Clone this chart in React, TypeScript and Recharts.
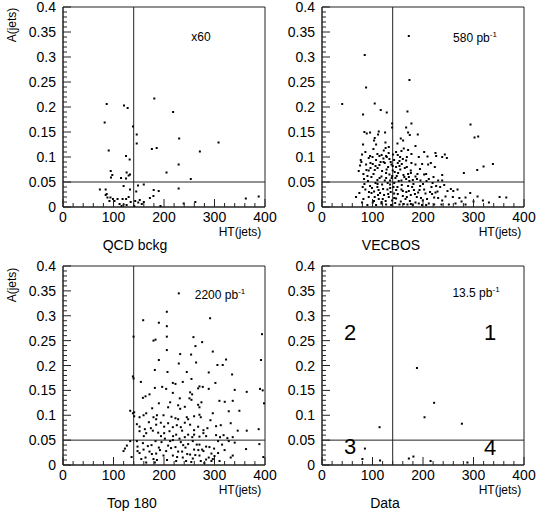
import { ScatterChart, Scatter, XAxis, YAxis, ReferenceLine, ReferenceArea } from 'recharts';

// [HT(jets), A(jets)] pairs
const qcdPoints: number[][] = [
  [86.5, 0.206], [120.8, 0.203], [128, 0.198], [82.5, 0.169], [138.6, 0.161], [180.8, 0.217], [218, 0.19],
  [146, 0.145], [146, 0.127], [230, 0.137], [308, 0.129], [90.5, 0.113], [176, 0.116], [185.5, 0.118],
  [271, 0.111], [124.8, 0.102], [132, 0.095], [229, 0.085], [94.5, 0.072], [97.6, 0.064], [95, 0.059],
  [114.9, 0.058], [126, 0.069], [130, 0.063], [132.7, 0.065], [124.8, 0.057], [205, 0.069], [253, 0.056],
  [73, 0.035], [84.5, 0.035], [120, 0.042], [132.7, 0.035], [148.5, 0.043], [160, 0.045], [145, 0.031],
  [179.6, 0.034], [189.5, 0.032], [229, 0.037], [84.5, 0.024], [86.5, 0.026], [88, 0.019], [94, 0.019],
  [99, 0.016], [108, 0.016], [118, 0.016], [125, 0.016], [92, 0.012], [102, 0.012], [112, 0.006],
  [120, 0.005], [126, 0.004], [143, 0.012], [152, 0.014], [160, 0.01], [172, 0.018], [179, 0.022],
  [156, 0.006], [149, 0.009], [193, 0.002], [239, 0.007], [262, 0.01], [362, 0.017], [387.5, 0.021],
  [130, 0.02], [134, 0.01], [141, 0.002], [116, 0.002],
];

const vecbosPoints: number[][] = [
  [171.9, 0.342], [84.6, 0.304], [173.2, 0.254], [87.3, 0.239], [40, 0.206], [104.4, 0.207], [81.3, 0.185],
  [116.3, 0.194], [128.2, 0.189], [169.2, 0.191], [177.1, 0.167], [138.8, 0.167], [138.8, 0.159], [166.6, 0.159],
  [294.1, 0.165],
  [83.9, 0.15], [88.6, 0.147], [95.2, 0.149], [112.4, 0.151], [111, 0.145], [124.9, 0.149], [104.4, 0.138],
  [103.1, 0.133], [156, 0.137], [160.6, 0.133], [170.5, 0.149], [173.8, 0.144], [189.7, 0.145], [302.1, 0.139],
  [309.3, 0.141], [81.3, 0.125], [107.1, 0.125], [125.6, 0.129], [149.4, 0.127], [132.2, 0.12], [161.9, 0.117],
  [185.1, 0.122], [101.8, 0.116], [122.3, 0.113], [85.9, 0.11], [109.7, 0.106], [146.7, 0.11], [157.3, 0.112],
  [170.5, 0.114], [177.1, 0.106], [191.7, 0.1], [79.3, 0.105], [95.2, 0.102], [113.7, 0.102], [126.9, 0.102],
  [140.8, 0.105], [154.7, 0.1], [202.3, 0.11], [224.7, 0.108], [208.9, 0.101], [226.1, 0.102], [238, 0.1],
  [76.7, 0.094], [92.5, 0.098], [107.1, 0.094], [121.6, 0.097], [128.2, 0.1], [133.5, 0.096], [142.8, 0.094],
  [153.4, 0.092], [160, 0.096], [166.6, 0.093], [177.1, 0.088], [185.1, 0.085], [198.3, 0.086], [210.2, 0.085],
  [223.4, 0.08], [215.5, 0.088], [243.2, 0.105], [247.2, 0.098], [75.4, 0.083], [87.3, 0.085], [100.5, 0.086],
  [113.7, 0.084], [124.3, 0.088], [130.9, 0.08], [137.5, 0.085], [146.7, 0.08], [153.4, 0.082], [167.9, 0.08],
  [175.8, 0.073], [189, 0.066], [202.3, 0.065], [206.2, 0.066], [185.1, 0.061], [220.8, 0.06], [230, 0.053],
  [238, 0.053], [72.7, 0.072], [82, 0.066], [92.5, 0.073], [104.4, 0.074], [119, 0.072], [126.9, 0.068],
  [133.5, 0.065], [140.1, 0.073], [150.7, 0.068], [161.3, 0.064], [170.5, 0.066], [83.3, 0.056], [97.8, 0.06],
  [109.7, 0.054], [117.7, 0.061], [124.3, 0.053], [134.8, 0.053], [145.4, 0.058], [157.3, 0.053], [166.6, 0.056],
  [179.8, 0.054], [195, 0.053], [211.5, 0.056], [238, 0.064], [280.9, 0.068], [307.4, 0.074], [319.9, 0.081],
  [338.4, 0.086], [78, 0.09], [96, 0.088], [110, 0.078], [122, 0.09], [128, 0.075], [136, 0.09], [144, 0.07],
  [150, 0.088], [164, 0.078], [172, 0.06], [90, 0.062], [102, 0.066], [114, 0.058], [138, 0.058], [155, 0.075],
  [168, 0.1], [118, 0.104], [88, 0.074], [132, 0.108], [148, 0.062],
  [96, 0.078], [106, 0.082], [116, 0.09], [140, 0.082], [158, 0.086], [176, 0.068], [194, 0.076], [100, 0.1],
  [126, 0.118], [150, 0.104],
  [67.4, 0.02], [74, 0.028], [80.6, 0.04], [85.9, 0.035], [92.5, 0.02], [95.2, 0.042], [103.1, 0.031],
  [109.7, 0.04], [112.4, 0.016], [119, 0.045], [122.9, 0.024], [129.6, 0.035], [134.8, 0.045], [138.8, 0.013],
  [142.8, 0.027], [149.4, 0.04], [153.4, 0.005], [160, 0.032], [165.3, 0.016], [170.5, 0.042], [175.8, 0.024],
  [178.5, 0.04], [185.1, 0.009], [190.4, 0.029], [194.3, 0.042], [199.6, 0.013], [204.9, 0.027], [211.5, 0.007],
  [216.8, 0.04], [222.1, 0.019], [228.7, 0.031], [234, 0.04], [238, 0.013], [248.5, 0.032], [255.1, 0.036],
  [259.1, 0.02], [268.4, 0.035], [276.3, 0.011], [284.2, 0.019], [293.5, 0.028], [300.1, 0.011], [308, 0.021],
  [318.6, 0.013], [330.5, 0.009], [351.7, 0.02], [364.9, 0.019], [79.3, 0.009], [89.9, 0.004], [100.5, 0.009],
  [107.1, 0.004], [117.7, 0.007], [126.9, 0.005], [132.2, 0.02], [146.7, 0.017], [156, 0.011], [169.2, 0.005],
  [179.8, 0.004], [191.7, 0.007], [206.2, 0.004], [222.1, 0.005], [236.6, 0.005], [251.2, 0.005], [82, 0.016],
  [104.4, 0.02], [120.3, 0.016], [141.5, 0.04], [157.3, 0.035], [171.9, 0.032], [187.7, 0.02], [202.3, 0.035],
  [224.7, 0.029], [244.6, 0.021], [264.4, 0.007], [284.2, 0.005], [98, 0.028], [112, 0.034], [126, 0.012],
  [136, 0.03], [145, 0.008], [160, 0.022], [174, 0.012], [182, 0.034], [196, 0.018], [110, 0.046], [130, 0.048],
  [150, 0.026],
  [84, 0.046], [91, 0.052], [99, 0.038], [106, 0.048], [115, 0.028], [121, 0.036], [127, 0.058], [135, 0.038],
  [139, 0.062], [143, 0.048], [147, 0.034], [152, 0.052], [158, 0.044], [163, 0.06], [167, 0.03], [173, 0.052],
  [181, 0.046], [188, 0.056], [193, 0.034], [200, 0.046], [207, 0.052], [214, 0.03], [219, 0.048], [226, 0.042],
  [93, 0.03], [103, 0.012], [111, 0.024], [118, 0.01], [131, 0.026], [137, 0.004], [143, 0.018], [162, 0.006],
  [168, 0.02], [176, 0.006], [184, 0.026], [198, 0.004], [208, 0.016], [218, 0.026], [230, 0.018], [242, 0.044],
  [260, 0.032], [272, 0.018],
];

const topPoints: number[][] = [
  [229.3, 0.345], [205.6, 0.308], [291.3, 0.295], [158.8, 0.291], [189.8, 0.286], [205.6, 0.279], [139.7, 0.258],
  [394.1, 0.263], [183.2, 0.252], [179.2, 0.25], [205.6, 0.258], [258.3, 0.257], [275.5, 0.247], [262.3, 0.239],
  [232, 0.223], [253.7, 0.222], [205.6, 0.231], [296.6, 0.228], [322.9, 0.212], [392.1, 0.211], [189.8, 0.211],
  [229.3, 0.204], [263.6, 0.206], [305.8, 0.201], [316.3, 0.201], [206.9, 0.187], [181.9, 0.191], [245.1, 0.187],
  [288.6, 0.186], [138.4, 0.178], [139.7, 0.174], [334.8, 0.182], [254.4, 0.173], [154.2, 0.167], [217.5, 0.165],
  [222.7, 0.163], [237.2, 0.167], [301.8, 0.165], [270.2, 0.158], [276.8, 0.157], [288.6, 0.153], [181.9, 0.155],
  [204.3, 0.153], [196.4, 0.157], [251.7, 0.146], [255.7, 0.142], [267.6, 0.154], [363.8, 0.147], [340, 0.151],
  [390.1, 0.153], [395.4, 0.15], [163.4, 0.138], [158.2, 0.135], [171.3, 0.142], [217.5, 0.145], [231.3, 0.134],
  [250.4, 0.134], [254.4, 0.131], [309.7, 0.129], [320.3, 0.127], [336.1, 0.129], [212.2, 0.126], [274.1, 0.126],
  [267.6, 0.121], [270.2, 0.116], [189.8, 0.124], [208.2, 0.116], [176.6, 0.114], [228, 0.12], [232, 0.113],
  [241.2, 0.117], [349.3, 0.109], [328.2, 0.108], [398, 0.124], [133.1, 0.109], [138.4, 0.104], [141, 0.106],
  [164.8, 0.104], [159.5, 0.1], [179.2, 0.096], [184.5, 0.092], [199, 0.1], [214.8, 0.097], [222.7, 0.094],
  [228, 0.092], [245.1, 0.096], [247.8, 0.092], [259.6, 0.098], [270.2, 0.101], [272.8, 0.096], [141, 0.098],
  [151.6, 0.096], [296.6, 0.104], [303.1, 0.078], [312.4, 0.08], [332.1, 0.084], [346, 0.069], [363.8, 0.069],
  [387.5, 0.072],
  [146.3, 0.082], [151.6, 0.077], [162.1, 0.072], [174, 0.074], [184.5, 0.081], [193.7, 0.085], [200.3, 0.077],
  [208.2, 0.084], [217.5, 0.076], [225.4, 0.08], [233.3, 0.076], [241.2, 0.085], [251.7, 0.081], [259.6, 0.07],
  [267.6, 0.077], [278.1, 0.07], [286, 0.074], [303.1, 0.06], [311, 0.056], [325.5, 0.054], [336.1, 0.056],
  [151.6, 0.068], [164.8, 0.064], [177.9, 0.069], [188.5, 0.065], [200.3, 0.064], [210.9, 0.068], [224.1, 0.061],
  [235.9, 0.069], [247.8, 0.061], [259.6, 0.061], [270.2, 0.057], [283.4, 0.058], [230.7, 0.053], [241.2, 0.056],
  [194, 0.058], [218, 0.058], [256, 0.056], [278, 0.064], [186, 0.1], [160, 0.058], [170, 0.086], [292, 0.09],
  [318, 0.06],
  [119.9, 0.028], [126.5, 0.039], [133.1, 0.048], [135.8, 0.016], [146.3, 0.048], [147.6, 0.037], [151.6, 0.024],
  [159.5, 0.031], [163.4, 0.015], [171.3, 0.027], [175.3, 0.04], [179.2, 0.012], [184.5, 0.023], [189.8, 0.035],
  [195.1, 0.046], [199, 0.019], [204.3, 0.028], [208.2, 0.039], [212.2, 0.048], [217.5, 0.019], [222.7, 0.036],
  [228, 0.027], [233.3, 0.046], [237.2, 0.015], [242.5, 0.035], [247.8, 0.042], [251.7, 0.021], [259.6, 0.031],
  [264.9, 0.041], [270.2, 0.019], [278.1, 0.028], [283.4, 0.037], [288.6, 0.015], [293.9, 0.023], [299.2, 0.033],
  [307.1, 0.048], [315, 0.041], [328.2, 0.048], [340, 0.045], [362.5, 0.032], [388.8, 0.042], [396.7, 0.016],
  [332.1, 0.015], [283.4, 0.011], [293.9, 0.008], [272.8, 0.008], [257, 0.013], [243.8, 0.008], [224.1, 0.008],
  [181.9, 0.005], [164.8, 0.005], [336.1, 0.019], [147.6, 0.028], [158.2, 0.044], [183.2, 0.048], [201.7, 0.053],
  [217.5, 0.05], [235.9, 0.027], [257, 0.048], [270.2, 0.041], [275.5, 0.031], [296.6, 0.012], [307.1, 0.024],
  [122.6, 0.033],
  [155, 0.012], [168, 0.038], [176, 0.022], [186, 0.01], [192, 0.03], [206, 0.01], [214, 0.034], [226, 0.016],
  [238, 0.04], [246, 0.022], [254, 0.006], [262, 0.02], [268, 0.03], [280, 0.004], [290, 0.036], [300, 0.018],
  [310, 0.008], [320, 0.03],
];

const dataPoints: number[][] = [
  [188, 0.195], [222, 0.125], [203, 0.096], [277, 0.083], [114, 0.076], [85, 0.033], [80, 0.012],
  [115, 0.009], [172, 0.013], [181, 0.017], [215, 0.008], [288, 0.005],
];

const xTicks = Array.from({ length: 21 }, (_, i) => i * 20);
const yTicks = Array.from({ length: 41 }, (_, i) => i / 100);
const HT_CUT = 140;
const A_CUT = 0.05;

const FONT = '"Liberation Sans", Arial, sans-serif';
const INK = '#222';

const XTick = ({ x, y, payload }: any) => {
  const v = payload.value;
  const major = v % 100 === 0;
  return (
    <g>
      <line x1={x} x2={x} y1={y} y2={y - (major ? 8 : 4)} stroke={INK} />
      {major && (
        <text x={x} y={y + 15} textAnchor="middle" fontSize={14} fontFamily={FONT} fill="#000">
          {v}
        </text>
      )}
    </g>
  );
};

const YTick = ({ x, y, payload }: any) => {
  const v = payload.value;
  const major = Math.round(v * 100) % 5 === 0;
  return (
    <g>
      <line x1={x} x2={x + (major ? 8 : 4)} y1={y} y2={y} stroke={INK} />
      {major && (
        <text x={x - 7} y={y + 5} textAnchor="end" fontSize={14} fontFamily={FONT} fill="#000">
          {String(v)}
        </text>
      )}
    </g>
  );
};

const Dot = ({ cx, cy }: any) => <rect x={cx - 1} y={cy - 1} width={2} height={2} fill="#000" />;

interface PanelProps {
  points: number[][];
  left: number;
  top: number;
  width: number;
  height: number;
  yAxisWidth: number;
  xAxisHeight: number;
  rightMargin: number;
}

const Panel = ({ points, left, top, width, height, yAxisWidth, xAxisHeight, rightMargin }: PanelProps) => {
  const rows = points.map(([x, y]) => ({ x, y }));
  return (
    <div style={{ position: 'absolute', left, top }}>
      <ScatterChart width={width} height={height} margin={{ top: 7, right: rightMargin, bottom: 0, left: 3 }}>
        <XAxis
          type="number"
          dataKey="x"
          domain={[0, 400]}
          ticks={xTicks}
          interval={0}
          height={xAxisHeight}
          tickSize={0}
          tickMargin={0}
          tick={<XTick />}
          axisLine={{ stroke: INK }}
        />
        <YAxis
          type="number"
          dataKey="y"
          domain={[0, 0.4]}
          ticks={yTicks}
          interval={0}
          width={yAxisWidth}
          tickSize={0}
          tickMargin={0}
          tick={<YTick />}
          axisLine={{ stroke: INK }}
        />
        <ReferenceArea x1={0} x2={400} y1={0} y2={0.4} fill="none" stroke={INK} />
        <ReferenceLine x={HT_CUT} stroke={INK} />
        <ReferenceLine y={A_CUT} stroke={INK} />
        <Scatter data={rows} shape={<Dot />} isAnimationActive={false} />
      </ScatterChart>
    </div>
  );
};

const Txt = ({ x, y, size, children, rotate }: any) => (
  <div
    style={{
      position: 'absolute',
      left: x,
      top: y,
      transform: `translate(-50%, -50%)${rotate ? ' rotate(-90deg)' : ''}`,
      fontSize: size,
      fontFamily: FONT,
      color: '#000',
      whiteSpace: 'nowrap',
      lineHeight: 1,
    }}
  >
    {children}
  </div>
);

const Lumi = ({ value }: { value: string }) => (
  <span>
    {value} pb<sup style={{ fontSize: 8, verticalAlign: 5 }}>-1</sup>
  </span>
);

export default function App() {
  return (
    <div style={{ position: 'absolute', left: 0, top: 0, width: 537, height: 519, background: '#fff', overflow: 'hidden' }}>
      {/* left charts are wider than their panel so the last x label is not clipped */}
      <Panel points={qcdPoints} left={0} top={0} width={285} height={259} yAxisWidth={60} xAxisHeight={52} rightMargin={20} />
      <Panel points={vecbosPoints} left={268} top={0} width={269} height={259} yAxisWidth={51} xAxisHeight={52} rightMargin={13} />
      <Panel points={topPoints} left={0} top={259} width={285} height={260} yAxisWidth={60} xAxisHeight={54} rightMargin={20} />
      <Panel points={dataPoints} left={268} top={259} width={269} height={260} yAxisWidth={51} xAxisHeight={54} rightMargin={13} />

      <Txt x={12} y={25} size={12} rotate>A(jets)</Txt>
      <Txt x={12} y={285} size={12} rotate>A(jets)</Txt>

      <Txt x={240} y={232} size={12}>HT(jets)</Txt>
      <Txt x={500} y={232} size={12}>HT(jets)</Txt>
      <Txt x={240} y={490} size={12}>HT(jets)</Txt>
      <Txt x={500} y={490} size={12}>HT(jets)</Txt>

      <Txt x={135} y={245} size={14}>QCD bckg</Txt>
      <Txt x={391} y={245} size={14}>VECBOS</Txt>
      <Txt x={132} y={503} size={14}>Top 180</Txt>
      <Txt x={385} y={503} size={14}>Data</Txt>

      <Txt x={201} y={37} size={12}>x60</Txt>
      <Txt x={475} y={37} size={12}><Lumi value="580" /></Txt>
      <Txt x={220} y={294} size={12}><Lumi value="2200" /></Txt>
      <Txt x={476} y={292} size={12}><Lumi value="13.5" /></Txt>

      <Txt x={350} y={333} size={22}>2</Txt>
      <Txt x={490} y={333} size={22}>1</Txt>
      <Txt x={350} y={447} size={22}>3</Txt>
      <Txt x={490} y={448} size={22}>4</Txt>
    </div>
  );
}
